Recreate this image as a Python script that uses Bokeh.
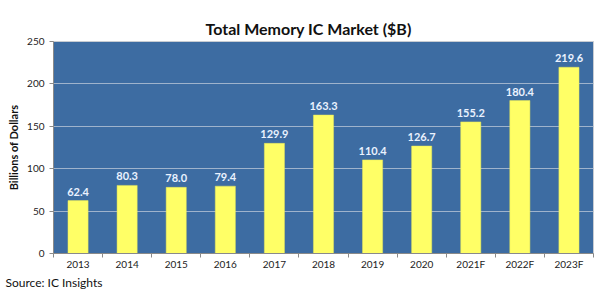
from bokeh.plotting import figure
from bokeh.models import ColumnDataSource, FixedTicker, LabelSet, Range1d, Title
from bokeh.core.properties import value
from bokeh.embed import file_html
from bokeh.resources import INLINE

years = ["2013", "2014", "2015", "2016", "2017", "2018", "2019", "2020", "2021F", "2022F", "2023F"]
values = [62.4, 80.3, 78.0, 79.4, 129.9, 163.3, 110.4, 126.7, 155.2, 180.4, 219.6]
y_ticks = [0, 50, 100, 150, 200, 250]

xs = list(range(len(years)))
src = ColumnDataSource(dict(x=xs, top=values, lab=[f"{v:.1f}" for v in values]))

FONT = "Lato"
p = figure(width=600, height=289, output_backend="svg", toolbar_location=None,
           x_range=Range1d(-0.5, len(years) - 0.5), y_range=Range1d(0, 250),
           min_border_left=53, min_border_right=7, min_border_top=41, min_border_bottom=35)
p.title.text = "Total Memory IC Market ($B)"
p.title.align = "left"
p.title.text_font = FONT
p.title.text_font_size = "16px"
p.title.text_font_style = "bold"
p.title.text_color = "#111111"
p.title.offset = 152
p.title.standoff = 7

p.background_fill_color = "#3D6CA2"
p.border_fill_color = "white"
p.outline_line_color = "#C8CCD2"

p.vbar(x="x", top="top", width=0.41, source=src, fill_color="#FFFF66", line_color="#E6E65A", line_width=0.5)

labels = LabelSet(x="x", y="top", text="lab", source=src, text_align="center", text_baseline="bottom",
                  y_offset=5, text_font_size=value("11px"), text_font_style=value("bold"),
                  text_color=value("#EAF2FF"), text_font=value(FONT))
p.add_layout(labels)

p.xgrid.visible = False
p.ygrid.grid_line_color = "#9FB3CC"
p.ygrid.grid_line_width = 1
p.ygrid.ticker = FixedTicker(ticks=y_ticks)

p.yaxis.ticker = FixedTicker(ticks=y_ticks)
p.yaxis.axis_label = "Billions of Dollars"
p.yaxis.axis_label_text_font = FONT
p.yaxis.axis_label_text_font_size = "11px"
p.yaxis.axis_label_text_font_style = "bold"
p.yaxis.axis_label_text_color = "#111111"
p.yaxis.axis_label_standoff = 4
p.yaxis.major_label_text_font = FONT
p.yaxis.major_label_text_font_size = "10px"
p.yaxis.major_label_text_color = "#222222"
p.yaxis.axis_line_color = "#8A8A8A"
p.yaxis.major_tick_line_color = "#8A8A8A"
p.yaxis.major_tick_out = 4
p.yaxis.major_tick_in = 0
p.yaxis.minor_tick_line_color = None

p.xaxis.ticker = FixedTicker(ticks=xs, minor_ticks=[i - 0.5 for i in range(len(years) + 1)])
p.xaxis.major_label_overrides = {i: y for i, y in enumerate(years)}
p.xaxis.major_label_text_font = FONT
p.xaxis.major_label_text_font_size = "10px"
p.xaxis.major_label_text_color = "#222222"
p.xaxis.major_label_standoff = 0
p.xaxis.axis_line_color = "#8A8A8A"
p.xaxis.major_tick_line_color = None
p.xaxis.major_tick_out = 0
p.xaxis.major_tick_in = 0
p.xaxis.minor_tick_line_color = "#8A8A8A"
p.xaxis.minor_tick_out = 4
p.xaxis.minor_tick_in = 0

source_title = Title(text="Source:  IC Insights", align="left", offset=-48, standoff=0,
                     text_font=FONT, text_font_size="12px", text_font_style="normal",
                     text_color="#111111")
p.add_layout(source_title, "below")

open("out.html", "w").write(file_html(p, INLINE))
